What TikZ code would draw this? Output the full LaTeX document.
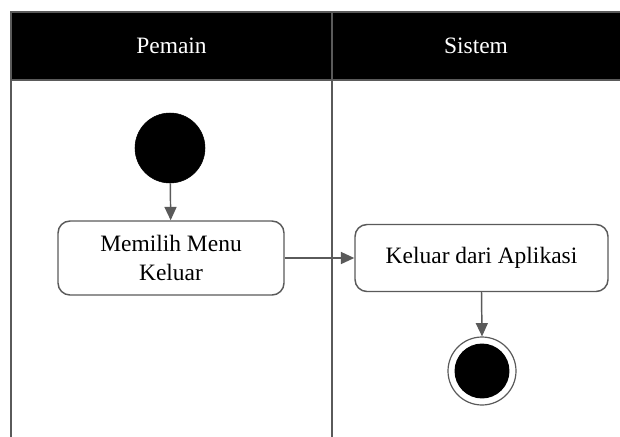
\documentclass[tikz,border=0pt]{standalone}
\usepackage{fontspec}
\setmainfont{Liberation Serif}
\usetikzlibrary{arrows.meta}
\definecolor{edge}{HTML}{5A5A5A}
\tikzset{
  lane/.style={draw=edge, line width=1.2pt},
  header/.style={fill=black, draw=edge, line width=1.2pt},
  lanetitle/.style={text=white, font=\fontsize{17.6}{21}\selectfont},
  action/.style={draw=edge, line width=1.1pt, rounded corners=9pt, fill=white,
    align=center, font=\fontsize{17.6}{21.75}\selectfont, inner sep=0pt},
  startdot/.style={circle, fill=black, draw=black, minimum size=52.5pt, inner sep=0pt},
  enddot/.style={circle, draw=edge, line width=0.9pt, fill=white, minimum size=51pt, inner sep=0pt},
  flow/.style={draw=edge, line width=1.1pt, -{Triangle[length=10pt, width=9pt]}},
}
\begin{document}
\begin{tikzpicture}[x=0.75pt, y=-0.75pt]
  \useasboundingbox (0,0) rectangle (620,436);
  % swimlane frame and header band
  \path[header] (11,12) rectangle (625,80);
  \draw[lane] (11,12) -- (11,440);
  \draw[lane] (332,12) -- (332,440);
  \node[lanetitle] (pemain) at (171.5,46) {Pemain};
  \node[lanetitle] (sistem) at (476,46) {Sistem};
  % activity nodes
  \node[startdot] (start) at (170,148) {};
  \node[action, minimum width=169.5pt, minimum height=55.5pt] (menu) at (171,258) {Memilih Menu\\Keluar};
  \node[action, minimum width=189.75pt, minimum height=50.25pt] (keluar) at (481.5,258) {Keluar dari Aplikasi};
  \node[enddot] (end) at (482,371) {};
  \fill[black] (end.center) circle (20.6pt);
  % control flow
  \draw[flow] (start) -- (menu);
  \draw[flow] (menu.east) -- (keluar.west);
  \draw[flow] (keluar.south) -- (end.north);
\end{tikzpicture}
\end{document}
